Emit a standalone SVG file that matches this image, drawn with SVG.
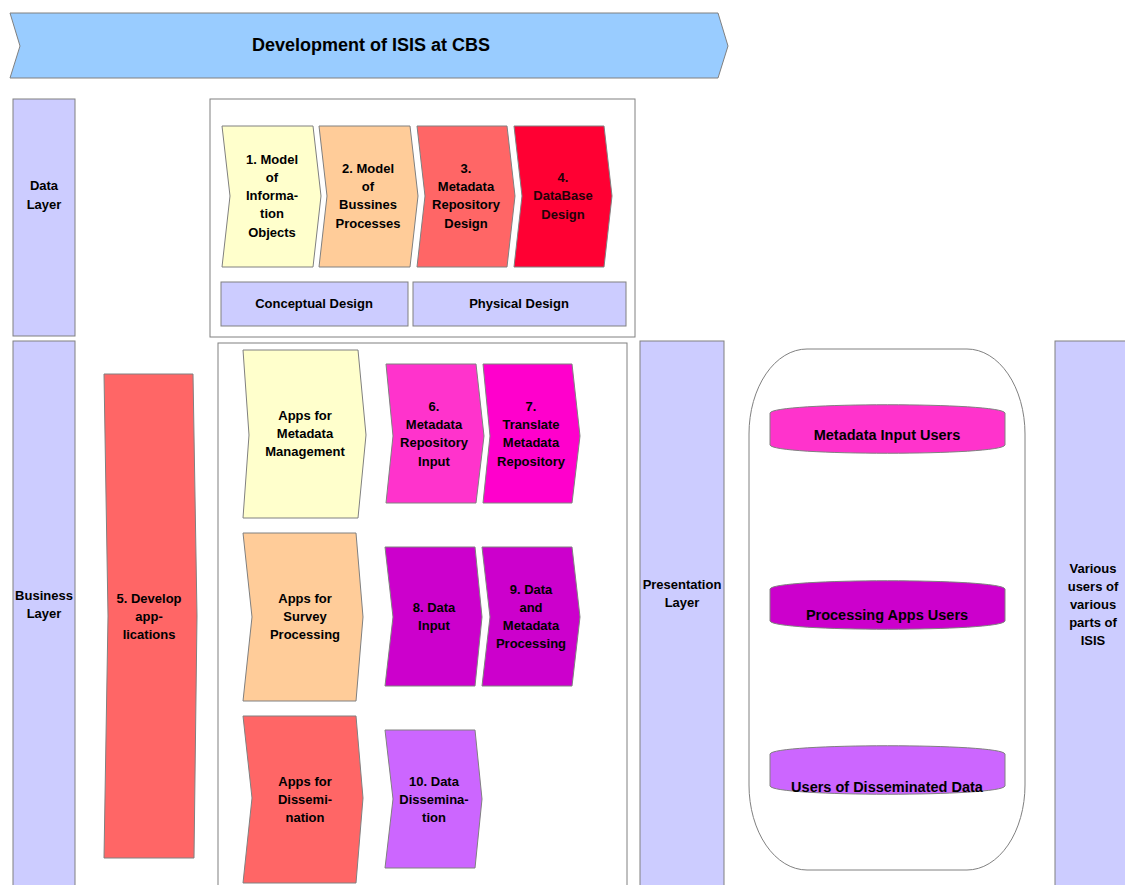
<svg xmlns="http://www.w3.org/2000/svg" width="1125" height="885" viewBox="0 0 1125 885">
<style>
text{font-family:"Liberation Sans",Arial,sans-serif;font-weight:bold;font-size:13px;fill:#000;text-anchor:middle}
.t{font-size:18px}
.u{font-size:14.5px}
.d{fill:#220008}
.s{stroke:#808080;stroke-width:1}
.box{fill:#fff;stroke:#808080;stroke-width:1}
.lav{fill:#ccccff;stroke:#808080;stroke-width:1}
</style>
<rect width="1125" height="885" fill="#fff"/>
<g id="title"><polygon class="s" fill="#99ccff" points="10,13 718,13 728,46 718,78 10,78 20,46"/><text class="t" x="371" y="51">Development of ISIS at CBS</text></g>
<g id="data-layer"><rect class="lav" x="13" y="99" width="62" height="237"/><text x="44" y="190">Data</text><text x="44" y="209">Layer</text></g>
<g id="business-layer"><rect class="lav" x="13" y="341" width="62" height="550"/><text x="44" y="600">Business</text><text x="44" y="618">Layer</text></g>
<g id="presentation-layer"><rect class="lav" x="640" y="341" width="84" height="550"/><text x="682" y="589">Presentation</text><text x="682" y="607">Layer</text></g>
<g id="various-users"><rect class="lav" x="1055" y="341" width="80" height="550"/><text x="1093" y="573">Various</text><text x="1093" y="591">users of</text><text x="1093" y="609">various</text><text x="1093" y="627">parts of</text><text x="1093" y="645">ISIS</text></g>
<g id="design-box"><rect class="box" x="210" y="99" width="425" height="238"/></g>
<g id="n1"><polygon class="s" fill="#ffffcc" points="222,126 313,126 321,196 313,267 222,267 230,196"/><text x="272" y="164">1. Model</text><text x="272" y="182">of</text><text x="272" y="200">Informa-</text><text x="272" y="218">tion</text><text x="272" y="237">Objects</text></g>
<g id="n2"><polygon class="s" fill="#ffcc99" points="319,126 410,126 418,196 410,267 319,267 327,196"/><text x="368" y="173">2. Model</text><text x="368" y="191">of</text><text x="368" y="209">Bussines</text><text x="368" y="228">Processes</text></g>
<g id="n3"><polygon class="s" fill="#ff6666" points="417,126 507,126 515,196 507,267 417,267 425,196"/><text x="466" y="173">3.</text><text x="466" y="191">Metadata</text><text x="466" y="209">Repository</text><text x="466" y="228">Design</text></g>
<g id="n4"><polygon class="s" fill="#ff0033" points="514,126 604,126 612,196 604,267 514,267 522,196"/><text class="d" x="563" y="182">4.</text><text class="d" x="563" y="200">DataBase</text><text class="d" x="563" y="219">Design</text></g>
<g id="conceptual"><rect class="lav" x="221" y="282" width="187" height="44"/><text x="314" y="308">Conceptual Design</text></g>
<g id="physical"><rect class="lav" x="413" y="282" width="213" height="44"/><text x="519" y="308">Physical Design</text></g>
<g id="apps-box"><rect class="box" x="218" y="343" width="409" height="550"/></g>
<g id="n5"><polygon class="s" fill="#ff6666" points="104,374 193,374 197,616 194,858 104,858 108,616"/><text x="149" y="603">5. Develop</text><text x="149" y="621">app-</text><text x="149" y="639">lications</text></g>
<g id="apps-meta"><polygon class="s" fill="#ffffcc" points="243,350 358,350 366,435 358,518 243,518 249,435"/><text x="305" y="420">Apps for</text><text x="305" y="438">Metadata</text><text x="305" y="456">Management</text></g>
<g id="n6"><polygon class="s" fill="#ff33cc" points="386,364 476,364 484,436 476,503 386,503 393,436"/><text x="434" y="411">6.</text><text x="434" y="429">Metadata</text><text x="434" y="447">Repository</text><text x="434" y="466">Input</text></g>
<g id="n7"><polygon class="s" fill="#ff00cc" points="483,364 572,364 580,436 572,503 483,503 490,436"/><text x="531" y="411">7.</text><text x="531" y="429">Translate</text><text x="531" y="447">Metadata</text><text x="531" y="466">Repository</text></g>
<g id="apps-survey"><polygon class="s" fill="#ffcc99" points="243,533 356,533 363,617 356,701 243,701 252,617"/><text x="305" y="603">Apps for</text><text x="305" y="621">Survey</text><text x="305" y="639">Processing</text></g>
<g id="n8"><polygon class="s" fill="#cc00cc" points="385,547 475,547 482,617 475,686 385,686 393,617"/><text x="434" y="612">8. Data</text><text x="434" y="630">Input</text></g>
<g id="n9"><polygon class="s" fill="#cc00cc" points="482,547 572,547 580,617 572,686 482,686 490,617"/><text x="531" y="594">9. Data</text><text x="531" y="612">and</text><text x="531" y="630">Metadata</text><text x="531" y="648">Processing</text></g>
<g id="apps-dissem"><polygon class="s" fill="#ff6666" points="243,716 356,716 363,798 356,883 243,883 252,798"/><text x="305" y="786">Apps for</text><text x="305" y="804">Dissemi-</text><text x="305" y="822">nation</text></g>
<g id="n10"><polygon class="s" fill="#cc66ff" points="385,730 475,730 482,799 475,868 385,868 393,799"/><text x="434" y="786">10. Data</text><text x="434" y="804">Dissemina-</text><text x="434" y="822">tion</text></g>
<g id="users-box"><rect class="box" x="749" y="349" width="276" height="521" rx="58" ry="85"/></g>
<g id="u1"><path class="s" fill="#ff33cc" d="M770,413 C773,402 1002,402 1005,413 L1005,445 C1002,456 773,456 770,445 Z"/><text class="u" x="887" y="440">Metadata Input Users</text></g>
<g id="u2"><path class="s" fill="#cc00cc" d="M770,589 C773,578 1002,578 1005,589 L1005,621 C1002,632 773,632 770,621 Z"/><text class="u" x="887" y="620">Processing Apps Users</text></g>
<g id="u3"><path class="s" fill="#cc66ff" d="M770,754 C773,743 1002,743 1005,754 L1005,786 C1002,797 773,797 770,786 Z"/><text class="u" x="887" y="792">Users of Disseminated Data</text></g>
<g id="connectors"></g>
</svg>
